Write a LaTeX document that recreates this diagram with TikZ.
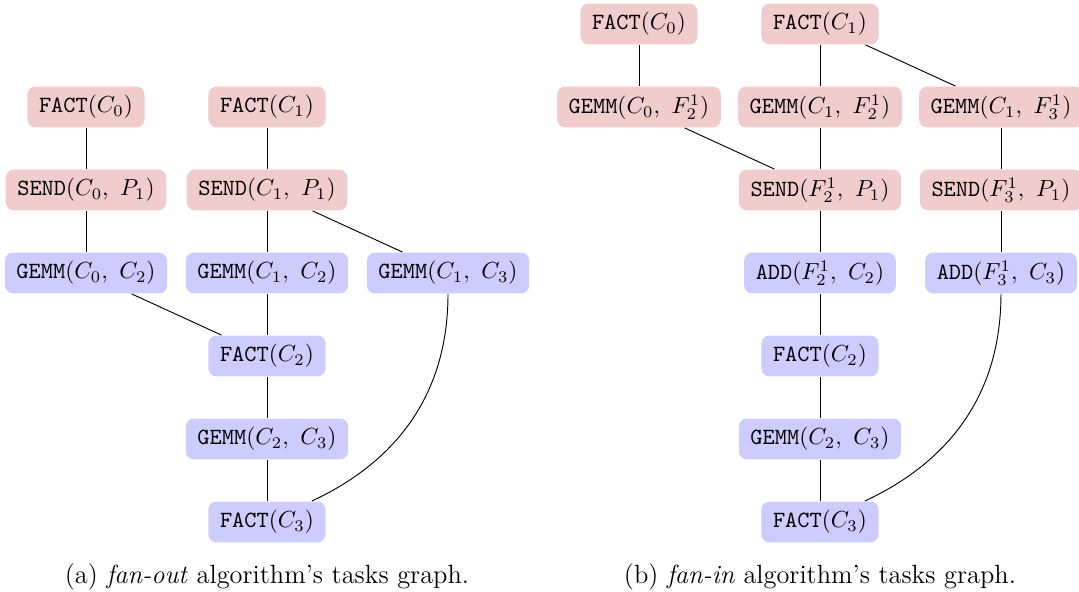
\documentclass[tikz,border=0pt]{standalone}
\usepackage{amsmath,amssymb}
\usepackage{tikz}
\usetikzlibrary{positioning}
\definecolor{taskred}{rgb}{0.94,0.8,0.8}
\definecolor{taskblue}{rgb}{0.8,0.8,1}
\tikzset{
  tg/.style={x=2.737cm, y=-1.255cm, every node/.style={rectangle, rounded corners=3.5pt, inner xsep=5pt, minimum height=17.6pt}},
  rt/.style={fill=taskred},
  bt/.style={fill=taskblue},
  dep/.style={draw, -, thin},
  subcap/.style={fill=none, minimum height=0pt, font=\fontsize{11.35pt}{13.6pt}\selectfont}
}
\newcommand{\tsk}[2]{\texttt{#1}$(#2)$}

\begin{document}
\begin{tikzpicture}[tg]
\useasboundingbox (-0.4751,-1.289) rectangle (5.486,5.843);
% (a) fan-out
\node[rt] (f0) at (0,0) {\tsk{FACT}{C_0}};
\node[rt] (f1) at (1,0) {\tsk{FACT}{C_1}};
\node[rt] (s0) at (0,1) {\tsk{SEND}{C_0,\ P_1}};
\node[rt] (s1) at (1,1) {\tsk{SEND}{C_1,\ P_1}};
\node[bt] (g02) at (0,2) {\tsk{GEMM}{C_0,\ C_2}};
\node[bt] (g12) at (1,2) {\tsk{GEMM}{C_1,\ C_2}};
\node[bt] (g13) at (2,2) {\tsk{GEMM}{C_1,\ C_3}};
\node[bt] (f2) at (1,3) {\tsk{FACT}{C_2}};
\node[bt] (g23) at (1,4) {\tsk{GEMM}{C_2,\ C_3}};
\node[bt] (f3) at (1,5) {\tsk{FACT}{C_3}};
\draw[dep] (f0) -- (s0); \draw[dep] (s0) -- (g02); \draw[dep] (f1) -- (s1); \draw[dep] (s1) -- (g12); \draw[dep] (s1) -- (g13);
\draw[dep] (g02) -- (f2); \draw[dep] (g12) -- (f2); \draw[dep] (f2) -- (g23); \draw[dep] (g23) -- (f3);
\draw[dep] (g13) to[out=-90, in=25] (f3);
\node[subcap] at (1,5.663) {(a) \textit{fan-out} algorithm's tasks graph.};
% (b) fan-in
\begin{scope}[xshift=3.055*2.737cm]
\node[rt] (rf0) at (0,-1) {\tsk{FACT}{C_0}};
\node[rt] (rf1) at (1,-1) {\tsk{FACT}{C_1}};
\node[rt] (m02) at (0,0) {\tsk{GEMM}{C_0,\ F_2^1}};
\node[rt] (m12) at (1,0) {\tsk{GEMM}{C_1,\ F_2^1}};
\node[rt] (m13) at (2,0) {\tsk{GEMM}{C_1,\ F_3^1}};
\node[rt] (sf2) at (1,1) {\tsk{SEND}{F_2^1,\ P_1}};
\node[rt] (sf3) at (2,1) {\tsk{SEND}{F_3^1,\ P_1}};
\node[bt] (a2) at (1,2) {\tsk{ADD}{F_2^1,\ C_2}};
\node[bt] (a3) at (2,2) {\tsk{ADD}{F_3^1,\ C_3}};
\node[bt] (rf2) at (1,3) {\tsk{FACT}{C_2}};
\node[bt] (rg23) at (1,4) {\tsk{GEMM}{C_2,\ C_3}};
\node[bt] (rf3) at (1,5) {\tsk{FACT}{C_3}};
\draw[dep] (rf0) -- (m02); \draw[dep] (rf1) -- (m12); \draw[dep] (rf1) -- (m13);
\draw[dep] (m02) -- (sf2); \draw[dep] (m12) -- (sf2); \draw[dep] (m13) -- (sf3);
\draw[dep] (sf2) -- (a2); \draw[dep] (sf3) -- (a3); \draw[dep] (a2) -- (rf2); \draw[dep] (rf2) -- (rg23); \draw[dep] (rg23) -- (rf3);
\draw[dep] (a3) to[out=-90, in=25] (rf3);
\node[subcap] at (1,5.663) {(b) \textit{fan-in} algorithm's tasks graph.};
\end{scope}
\end{tikzpicture}
\end{document}
